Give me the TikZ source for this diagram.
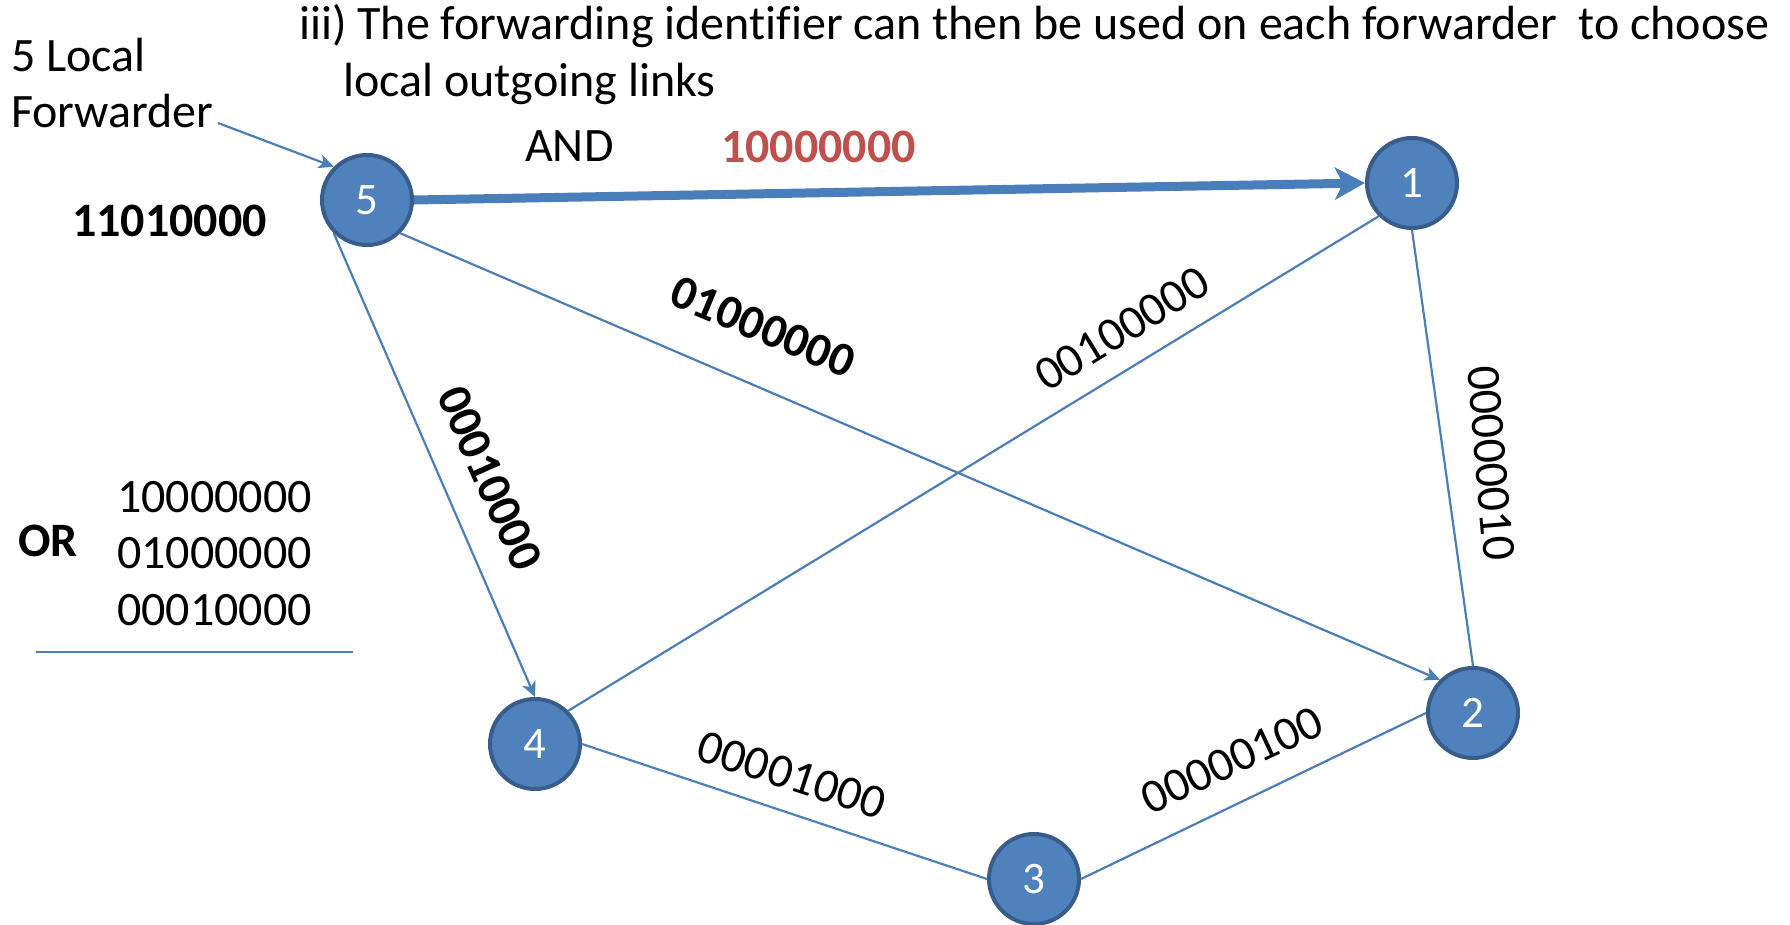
\documentclass[tikz,border=0pt]{standalone}
\usepackage{fontspec}
\setmainfont{Carlito}[Ligatures=CommonOff]
\usetikzlibrary{arrows.meta}
\definecolor{nodefill}{HTML}{4F81BD}
\definecolor{nodeborder}{HTML}{385D8A}
\definecolor{linkcol}{HTML}{4A7EBB}
\definecolor{redtxt}{HTML}{C0504D}
\newcommand\bigfs{\fontsize{48}{58}\selectfont}
\tikzset{
  fwd/.style={circle, fill=nodefill, draw=nodeborder, line width=4pt, minimum size=90pt, inner sep=0pt, text=white, font=\fontsize{45}{52}\selectfont},
  link/.style={draw=linkcol, line width=2.2pt},
  linkarrow/.style={link, -{Stealth[length=15pt,width=14pt,inset=4pt]}},
  bigarrow/.style={draw=linkcol, line width=9pt, -{Stealth[length=30pt,width=32pt,inset=8pt]}},
  txt/.style={inner sep=0pt, font=\bigfs, anchor=base west},
  lbl/.style={inner sep=0pt, font=\bigfs, anchor=center},
}
\begin{document}
\begin{tikzpicture}[x=1pt,y=1pt]
\useasboundingbox (0,0) rectangle (1790,-925);
% nodes
\node[fwd] (n5) at (367,-200) {5};
\node[fwd] (n1) at (1412,-183) {1};
\node[fwd] (n2) at (1473,-713) {2};
\node[fwd] (n4) at (535,-744) {4};
\node[fwd] (n3) at (1034,-879) {3};
% connectors
\draw[bigarrow] (n5.east) -- (n1.west);
\draw[linkarrow] (n5.south west) -- (n4.north);
\draw[linkarrow] (n5.south east) -- (n2.north west);
\draw[link] (n1.south west) -- (n4.north east);
\draw[link] (n1.south) -- (n2.north);
\draw[link] (n4.east) -- (n3.west);
\draw[link] (n3.east) -- (n2.west);
% texts
\node[txt] (t1) at (299,-40) {iii) The forwarding identifier can then be used on each forwarder\ \ to choose};
\node[txt] (t2) at (343,-97) {local outgoing links};
\node[txt] (loc1) at (11,-72) {5 Local};
\node[txt] (loc2) at (11,-128) {Forwarder};
\coordinate (fstart) at (218,-123);
\draw[linkarrow] (fstart) -- (n5.north west);
\node[txt] (and) at (525,-162) {AND};
\node[txt, text=redtxt, font=\bigfs\bfseries] (mask) at (721,-163) {10000000};
\node[txt, font=\bigfs\bfseries] (res) at (72,-237) {11010000};
\node[txt, font=\bigfs\bfseries] (or) at (18,-556) {OR};
\node[txt] (o1) at (117,-512) {10000000};
\node[txt] (o2) at (117,-568) {01000000};
\node[txt] (o3) at (117,-625) {00010000};
\coordinate (ul1) at (36,-652);
\coordinate (ul2) at (353,-652);
\draw[draw=linkcol, line width=1.6pt] (ul1) -- (ul2);
% edge labels
\node[lbl, font=\bigfs\bfseries, rotate=-22.6] (l52) at (763,-327) {01000000};
\node[lbl, font=\bigfs\bfseries, rotate=-66] (l54) at (490,-478) {00010000};
\node[lbl, rotate=31.5] (l14) at (1122,-329) {00100000};
\node[lbl, rotate=-85] (l12) at (1491,-463) {00000010};
\node[lbl, rotate=-18] (l43) at (792,-775) {00001000};
\node[lbl, rotate=25] (l32) at (1232,-760) {00000100};
\end{tikzpicture}
\end{document}
